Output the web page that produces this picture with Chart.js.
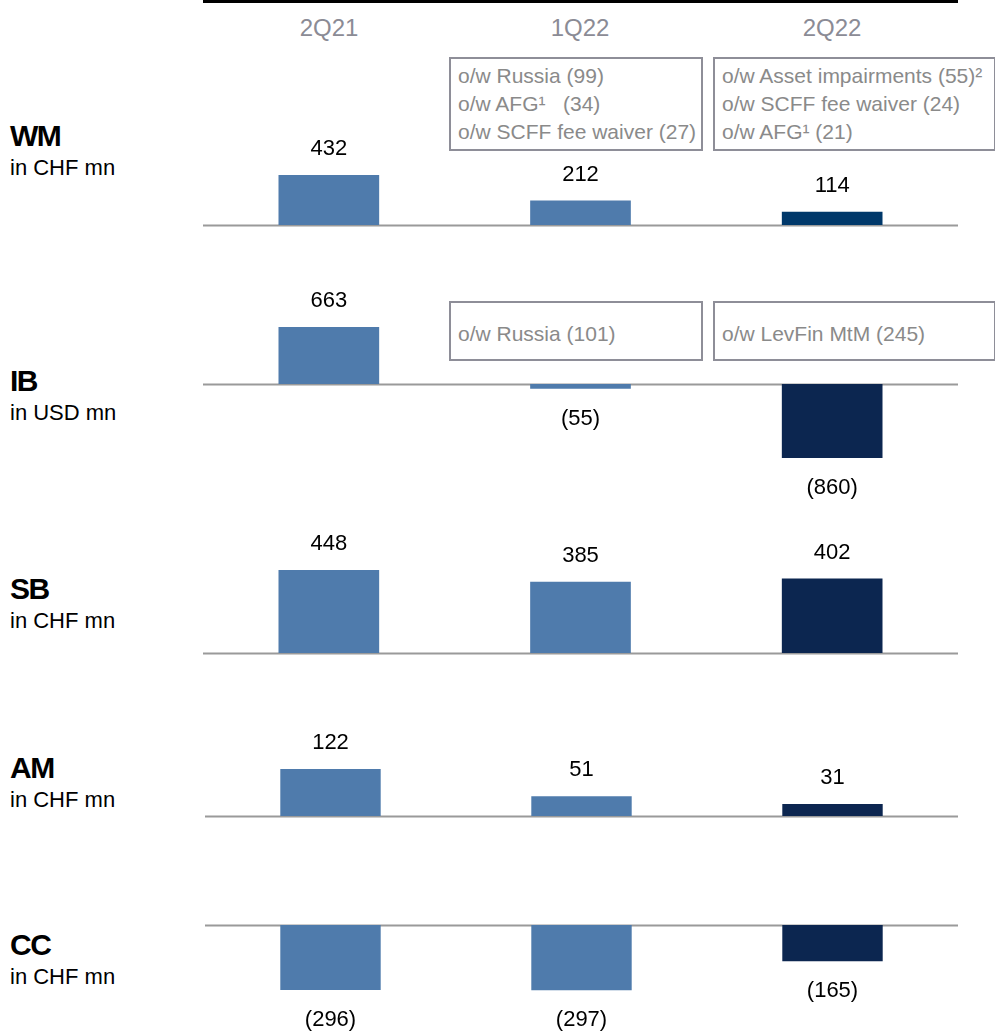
<!DOCTYPE html>
<html>
<head>
<meta charset="utf-8">
<script src="https://cdn.jsdelivr.net/npm/chart.js@4"></script>
<style>
  body { margin: 0; width: 995px; height: 1033px; background: #fff; position: relative; overflow: hidden; font-family: "Liberation Sans", Arial, sans-serif; }
  .topline { position: absolute; left: 203px; top: 0; width: 755px; height: 3px; background: #000; }
  .cat { position: absolute; top: 14px; width: 200px; margin-left: -100px; text-align: center; color: #8b8b95; font-size: 24px; }
  .seg { position: absolute; left: 10px; color: #000; }
  .seg b { display: block; font-size: 30px; letter-spacing: -1.5px; }
  .seg span { display: block; font-size: 22px; margin-top: 2px; }
  .note { position: absolute; border: 2px solid #8e8e98; background: #fff; color: #8a8a8a; font-size: 21px; line-height: 28px; padding: 3px 0 0 7px; box-sizing: border-box; white-space: nowrap; z-index: 2; }
  canvas { position: absolute; }
</style>
</head>
<body>
<div class="topline"></div>

<script>
// categories
const quarters = ['2Q21', '1Q22', '2Q22'];

// segment names and units
const segments = ['WM', 'IB', 'SB', 'AM', 'CC'];
const units = ['in CHF mn', 'in USD mn', 'in CHF mn', 'in CHF mn', 'in CHF mn'];

// values per segment
const wmValues = [432, 212, 114];
const ibValues = [663, -55, -860];
const sbValues = [448, 385, 402];
const amValues = [122, 51, 31];
const ccValues = [-296, -297, -165];

// notes
const wmNotes1Q22 = ['o/w Russia (99)', 'o/w AFG¹\u00a0\u00a0 (34)', 'o/w SCFF fee waiver (27)'];
const wmNotes2Q22 = ['o/w Asset impairments (55)²', 'o/w SCFF fee waiver (24)', 'o/w AFG¹ (21)'];
const ibNotes1Q22 = ['o/w Russia (101)'];
const ibNotes2Q22 = ['o/w LevFin MtM (245)'];

const light = '#4f7bac';
const navy = '#0c2650';

const rows = [
  { values: wmValues, colors: [light, light, '#00386a'], left: 203, top: 120, height: 115, zero: 105, k: 50 / 432, labelTop: 119 },
  { values: ibValues, colors: [light, light, navy], left: 203, top: 280, height: 220, zero: 104, k: 57 / 663, labelTop: 364 },
  { values: sbValues, colors: [light, light, navy], left: 203, top: 530, height: 130, zero: 123, k: 83 / 448, labelTop: 572 },
  { values: amValues, colors: [light, light, navy], left: 205, top: 728, height: 97, zero: 88, k: 47 / 122, labelTop: 751 },
  { values: ccValues, colors: [light, light, navy], left: 205, top: 900, height: 133, zero: 25, k: 65 / 296, labelTop: 928 }
];

// category headers
[329, 580, 832].forEach((x, i) => {
  const d = document.createElement('div');
  d.className = 'cat';
  d.style.left = x + 'px';
  d.textContent = quarters[i];
  document.body.appendChild(d);
});

function addNote(lines, left, top, width, height) {
  const d = document.createElement('div');
  d.className = 'note';
  Object.assign(d.style, { left: left + 'px', top: top + 'px', width: width + 'px', height: height + 'px' });
  if (lines.length === 1) { d.style.lineHeight = (height - 4) + 'px'; d.style.paddingTop = '3px'; }
  d.innerHTML = lines.join('<br>');
  document.body.appendChild(d);
}
addNote(wmNotes1Q22, 449, 57, 254, 94);
addNote(wmNotes2Q22, 713, 57, 283, 94);
addNote(ibNotes1Q22, 449, 301, 254, 60);
addNote(ibNotes2Q22, 713, 301, 283, 60);

const zeroLine = {
  id: 'zeroLine',
  beforeDatasetsDraw(chart) {
    const { ctx, chartArea, scales } = chart;
    const y = Math.round(scales.y.getPixelForValue(0)) + 0.5;
    ctx.save();
    ctx.strokeStyle = '#9a9a9a';
    ctx.lineWidth = 2;
    ctx.beginPath();
    ctx.moveTo(chartArea.left, y);
    ctx.lineTo(chartArea.right, y);
    ctx.stroke();
    ctx.restore();
  }
};

const valueLabels = {
  id: 'valueLabels',
  afterDatasetsDraw(chart) {
    const { ctx } = chart;
    const ds = chart.data.datasets[0];
    ctx.save();
    ctx.font = '22px "Liberation Sans", Arial, sans-serif';
    ctx.fillStyle = '#000';
    ctx.textAlign = 'center';
    ctx.textBaseline = 'middle';
    chart.getDatasetMeta(0).data.forEach((bar, i) => {
      const v = ds.data[i];
      const txt = v < 0 ? '(' + (-v) + ')' : String(v);
      ctx.fillText(txt, bar.x, v < 0 ? bar.y + 30 : bar.y - 26);
    });
    ctx.restore();
  }
};

rows.forEach((r, idx) => {
  const seg = document.createElement('div');
  seg.className = 'seg';
  seg.style.top = r.labelTop + 'px';
  seg.innerHTML = '<b>' + segments[idx] + '</b><span>' + units[idx] + '</span>';
  document.body.appendChild(seg);

  const c = document.createElement('canvas');
  const w = 958 - r.left;
  c.width = w; c.height = r.height;
  c.style.left = r.left + 'px';
  c.style.top = r.top + 'px';
  c.style.width = w + 'px';
  c.style.height = r.height + 'px';
  document.body.appendChild(c);

  new Chart(c, {
    type: 'bar',
    data: {
      labels: quarters,
      datasets: [{
        data: r.values,
        backgroundColor: r.colors,
        borderWidth: 0,
        barPercentage: 0.4,
        categoryPercentage: 1
      }]
    },
    options: {
      responsive: false,
      animation: false,
      devicePixelRatio: 1,
      layout: { padding: 0 },
      plugins: { legend: { display: false }, tooltip: { enabled: false } },
      scales: {
        x: { display: false },
        y: { display: false, min: -(r.height - r.zero) / r.k, max: r.zero / r.k }
      }
    },
    plugins: [zeroLine, valueLabels]
  });
});
</script>
</body>
</html>
